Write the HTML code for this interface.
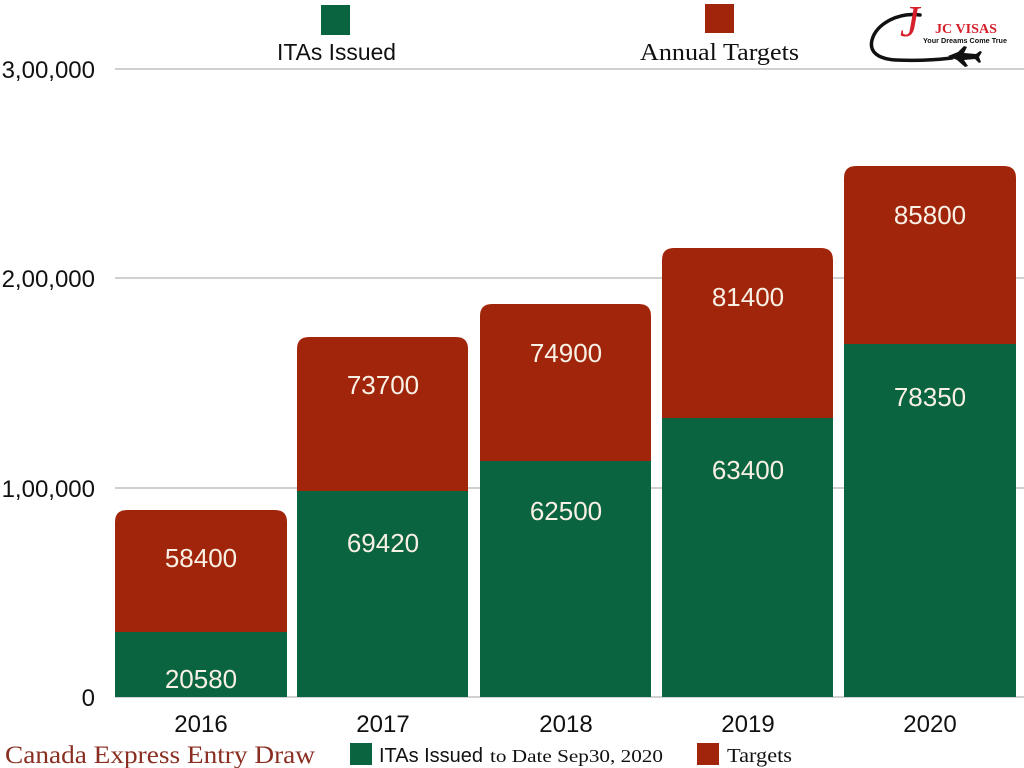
<!DOCTYPE html>
<html><head><meta charset="utf-8"><style>
html,body{margin:0;padding:0;background:#fff;}
svg{display:block;}
</style></head><body>
<svg width="1024" height="768" viewBox="0 0 1024 768" xmlns="http://www.w3.org/2000/svg">
<rect width="1024" height="768" fill="#fff"/>
<!-- gridlines -->
<g stroke="#d0d0d0" stroke-width="2">
<line x1="115" y1="69" x2="1024" y2="69"/>
<line x1="115" y1="278" x2="1024" y2="278"/>
<line x1="115" y1="488" x2="1024" y2="488"/>
<line x1="115" y1="697" x2="1024" y2="697"/>
</g>
<!-- y labels -->
<g font-family="Liberation Sans, sans-serif" font-size="24" fill="#111" text-anchor="end">
<text x="95" y="78">3,00,000</text>
<text x="95" y="287">2,00,000</text>
<text x="95" y="497">1,00,000</text>
<text x="95" y="706">0</text>
</g>
<!-- bars -->
<g>
<path d="M115,697 V522 Q115,510 127,510 H275 Q287,510 287,522 V697 Z" fill="#a1250b"/>
<rect x="115" y="632" width="172" height="65" fill="#09643f"/>
<path d="M297,697 V349 Q297,337 309,337 H456 Q468,337 468,349 V697 Z" fill="#a1250b"/>
<rect x="297" y="491" width="171" height="206" fill="#09643f"/>
<path d="M480,697 V316 Q480,304 492,304 H639 Q651,304 651,316 V697 Z" fill="#a1250b"/>
<rect x="480" y="461" width="171" height="236" fill="#09643f"/>
<path d="M662,697 V260 Q662,248 674,248 H821 Q833,248 833,260 V697 Z" fill="#a1250b"/>
<rect x="662" y="418" width="171" height="279" fill="#09643f"/>
<path d="M844,697 V178 Q844,166 856,166 H1004 Q1016,166 1016,178 V697 Z" fill="#a1250b"/>
<rect x="844" y="344" width="172" height="353" fill="#09643f"/>
</g>
<!-- bar labels -->
<g font-family="Liberation Sans, sans-serif" font-size="26" fill="#f8f0e4" text-anchor="middle">
<text x="201" y="567">58400</text>
<text x="201" y="688">20580</text>
<text x="383" y="394">73700</text>
<text x="383" y="552">69420</text>
<text x="566" y="362">74900</text>
<text x="566" y="520">62500</text>
<text x="748" y="306">81400</text>
<text x="748" y="479">63400</text>
<text x="930" y="224">85800</text>
<text x="930" y="406">78350</text>
</g>
<!-- x labels -->
<g font-family="Liberation Sans, sans-serif" font-size="24" fill="#111" text-anchor="middle">
<text x="201" y="732">2016</text>
<text x="383" y="732">2017</text>
<text x="566" y="732">2018</text>
<text x="748" y="732">2019</text>
<text x="930" y="732">2020</text>
</g>
<!-- top legend -->
<rect x="321" y="5" width="29" height="30" fill="#09643f"/>
<rect x="705" y="4" width="29" height="29" fill="#a1250b"/>
<text x="277" y="60" font-family="Liberation Sans, sans-serif" font-size="23" fill="#111" textLength="119" lengthAdjust="spacingAndGlyphs">ITAs Issued</text>
<text x="640" y="60" font-family="Liberation Serif, serif" font-size="24" fill="#111" textLength="159" lengthAdjust="spacingAndGlyphs">Annual Targets</text>
<!-- bottom legend -->
<text x="5" y="763" font-family="Liberation Serif, serif" font-size="25" fill="#8a2e22" textLength="310" lengthAdjust="spacingAndGlyphs">Canada Express Entry Draw</text>
<rect x="350" y="743" width="22" height="22" fill="#09643f"/>
<text x="379" y="762" font-family="Liberation Sans, sans-serif" font-size="20" fill="#111" textLength="104" lengthAdjust="spacingAndGlyphs">ITAs Issued</text>
<text x="490" y="762" font-family="Liberation Serif, serif" font-size="18" fill="#111" textLength="173" lengthAdjust="spacingAndGlyphs">to Date Sep30, 2020</text>
<rect x="697" y="743" width="22" height="22" fill="#a1250b"/>
<text x="727" y="762" font-family="Liberation Serif, serif" font-size="20" fill="#111" textLength="65" lengthAdjust="spacingAndGlyphs">Targets</text>
<!-- logo -->
<g>
<path d="M920,15 C898,12 876,24 872,40 C869,52 878,59 896,60 C916,61 935,60 952,58" fill="none" stroke="#111" stroke-width="3.5" stroke-linecap="round"/>
<path d="M948,56 L958,52 L964,46 L967,47 L964,53 L976,54 L980,51 L982,52 L979,57 L981,62 L979,63 L975,59 L964,60 L968,66 L965,67 L957,60 Z" fill="#111"/>
<text x="900" y="36" font-family="Liberation Serif, serif" font-style="italic" font-size="44" fill="#d61f2b">J</text>
<text x="935" y="33" font-family="Liberation Serif, serif" font-weight="bold" font-size="14" fill="#d61f2b" textLength="62" lengthAdjust="spacingAndGlyphs">JC VISAS</text>
<text x="923" y="43" font-family="Liberation Sans, sans-serif" font-weight="bold" font-size="7" fill="#111" textLength="84" lengthAdjust="spacingAndGlyphs">Your Dreams Come True</text>
</g>
</svg>
</body></html>
